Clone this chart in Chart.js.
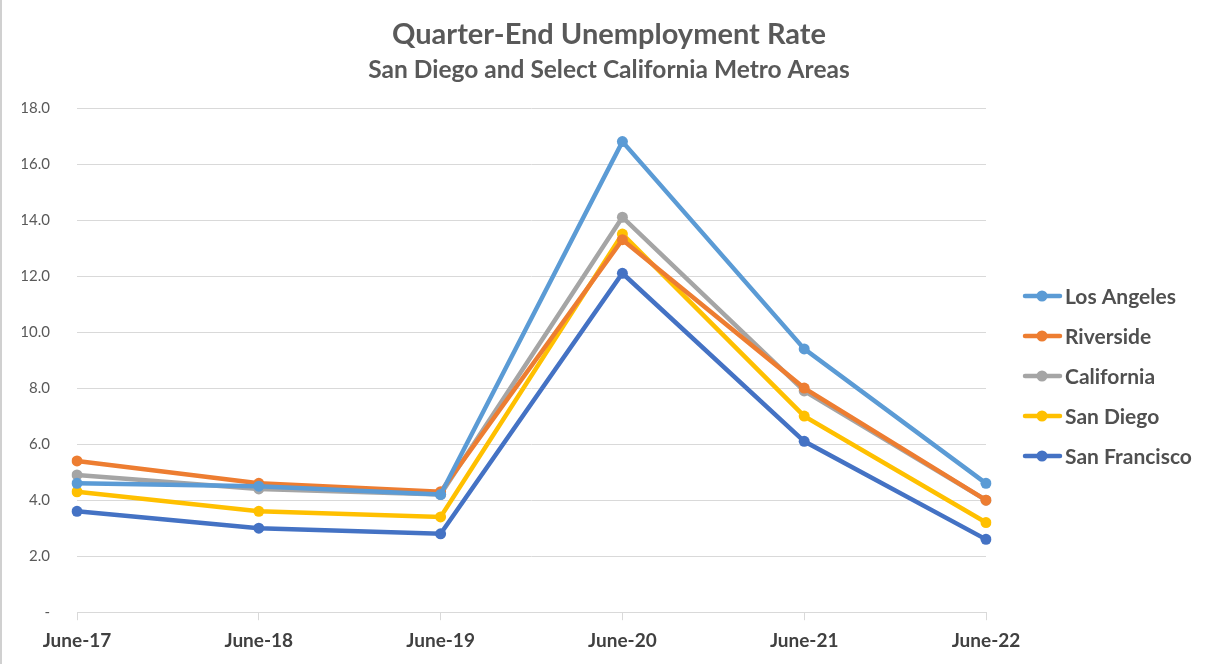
<!DOCTYPE html>
<html>
<head>
<meta charset="utf-8">
<script src="https://cdn.jsdelivr.net/npm/chart.js@4/dist/chart.umd.min.js"></script>
<style>
  body { margin: 0; background: #fff; }
  #wrap { width: 1213px; height: 664px; position: relative; }
</style>
</head>
<body>
<div id="wrap"><canvas id="theChart"></canvas></div>
<script>
// chart data
var quarters = ['June-17', 'June-18', 'June-19', 'June-20', 'June-21', 'June-22'];
var losAngeles = [4.6, 4.5, 4.2, 16.8, 9.4, 4.6];
var riverside = [5.4, 4.6, 4.3, 13.3, 8.0, 4.0];
var california = [4.9, 4.4, 4.2, 14.1, 7.9, 4.0];
var sanDiego = [4.3, 3.6, 3.4, 13.5, 7.0, 3.2];
var sanFrancisco = [3.6, 3.0, 2.8, 12.1, 6.1, 2.6];
var yTicks = [0, 2, 4, 6, 8, 10, 12, 14, 16, 18];
var titleText = 'Quarter-End Unemployment Rate';
var subtitleText = 'San Diego and Select California Metro Areas';

var fontName = 'Lato, "Open Sans", sans-serif';

function series(label, data, color){
  return {
    label: label,
    data: data,
    borderColor: color,
    backgroundColor: color,
    borderWidth: 4.5,
    pointRadius: 5.5,
    pointHoverRadius: 5.5,
    pointBackgroundColor: color,
    pointBorderWidth: 0,
    tension: 0
  };
}

// titles, legend and the frame line are drawn by hand so they sit where the original has them
var extras = {
  id: 'extras',
  afterDraw: function(chart){
    var ctx = chart.ctx;
    ctx.save();
    // thin frame line on the left
    ctx.strokeStyle = '#d0d0d0';
    ctx.lineWidth = 2;
    ctx.beginPath(); ctx.moveTo(1, 0); ctx.lineTo(1, chart.height); ctx.stroke();

    ctx.textAlign = 'center';
    ctx.textBaseline = 'middle';
    ctx.fillStyle = '#595959';
    ctx.font = 'bold 29px ' + fontName;
    ctx.fillText(titleText, 609, 35);
    ctx.font = 'bold 24.5px ' + fontName;
    ctx.fillText(subtitleText, 609, 70);

    // legend
    ctx.textAlign = 'left';
    ctx.font = 'bold 21px ' + fontName;
    chart.data.datasets.forEach(function(ds, i){
      var y = 296 + i * 40;
      ctx.strokeStyle = ds.borderColor;
      ctx.lineWidth = 4.5;
      ctx.lineCap = 'round';
      ctx.beginPath(); ctx.moveTo(1025, y); ctx.lineTo(1060, y); ctx.stroke();
      ctx.fillStyle = ds.borderColor;
      ctx.beginPath(); ctx.arc(1042, y, 5.5, 0, Math.PI * 2); ctx.fill();
      ctx.fillStyle = '#505050';
      ctx.fillText(ds.label, 1065, y + 1);
    });
    ctx.restore();
  }
};

var myChart = new Chart(document.getElementById('theChart'), {
  type: 'line',
  data: {
    labels: quarters,
    datasets: [
      series('Los Angeles', losAngeles, '#5b9bd5'),
      series('Riverside', riverside, '#ed7d31'),
      series('California', california, '#a5a5a5'),
      series('San Diego', sanDiego, '#ffc000'),
      series('San Francisco', sanFrancisco, '#4472c4')
    ]
  },
  plugins: [extras],
  options: {
    responsive: true,
    maintainAspectRatio: false,
    animation: false,
    layout: { padding: { left: 22, right: 227, top: 108, bottom: 3 } },
    plugins: {
      legend: { display: false },
      tooltip: { enabled: false }
    },
    scales: {
      x: {
        offset: false,
        grid: { display: true, drawOnChartArea: false, drawTicks: true, tickLength: 8, color: '#d9d9d9', lineWidth: 1 },
        border: { display: true, color: '#d9d9d9', width: 1 },
        ticks: {
          color: '#404040',
          font: { family: fontName, size: 19, weight: 'bold' },
          padding: 9,
          maxRotation: 0
        }
      },
      y: {
        min: 0,
        max: 18,
        afterBuildTicks: function(scale){
          scale.ticks = yTicks.map(function(v){ return { value: v }; });
        },
        afterFit: function(scale){
          scale.width = 55;
        },
        grid: { color: '#d9d9d9', lineWidth: 1, drawTicks: false },
        border: { display: false },
        ticks: {
          color: '#595959',
          font: { family: fontName, size: 15 },
          padding: 27,
          callback: function(v){ return v === 0 ? '-' : v.toFixed(1); }
        }
      }
    }
  }
});
</script>
</body>
</html>
